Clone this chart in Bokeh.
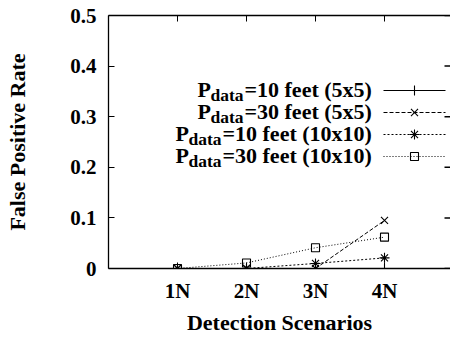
from bokeh.plotting import figure
from bokeh.models import FixedTicker, LinearAxis, Label, Range1d
from bokeh.embed import file_html
from bokeh.resources import INLINE

# ---- data ----
categories = ["1N", "2N", "3N", "4N"]
x_pos = [1, 2, 3, 4]
p10_5x5 = [0.0, 0.0, 0.0, 0.0]
p30_5x5 = [0.0, 0.0, 0.0, 0.095]
p10_10x10 = [0.0, 0.0, 0.01, 0.021]
p30_10x10 = [0.0, 0.011, 0.041, 0.062]
y_ticks = [0, 0.1, 0.2, 0.3, 0.4, 0.5]
y_tick_labels = ["0", "0.1", "0.2", "0.3", "0.4", "0.5"]
legend_values = ["=10 feet (5x5)", "=30 feet (5x5)", "=10 feet (10x10)", "=30 feet (10x10)"]

FONT = "Liberation Serif"
FS = "22px"
TICK_FS = "21px"
SUB_FS = "17.5px"

W, H = 450, 337
BL, BT, BB, BR = 108, 15, 69, 0
frame_w = W - BL - BR
frame_h = H - BT - BB
unit_x = 69.0
x_end = frame_w / unit_x

p = figure(width=W, height=H, output_backend="svg", toolbar_location=None,
           x_range=Range1d(0, x_end), y_range=Range1d(0, 0.5),
           min_border_left=BL, min_border_right=BR, min_border_top=BT,
           min_border_bottom=BB, x_axis_type=None, y_axis_type=None)
p.grid.visible = False
p.outline_line_color = None
p.background_fill_color = "white"
p.border_fill_color = "white"

xa = LinearAxis(ticker=FixedTicker(ticks=x_pos),
                major_label_overrides={x: c for x, c in zip(x_pos, categories)},
                axis_label="Detection Scenarios")
ya = LinearAxis(ticker=FixedTicker(ticks=y_ticks),
                major_label_overrides={t: l for t, l in zip(y_ticks, y_tick_labels)},
                axis_label="False Positive Rate")
ta = LinearAxis(ticker=FixedTicker(ticks=x_pos),
                major_label_overrides={x: "" for x in x_pos})
for ax in (xa, ya, ta):
    ax.major_tick_in = 6
    ax.major_tick_out = 0
    ax.minor_tick_in = 0
    ax.minor_tick_out = 0
    ax.axis_line_color = "black"
    ax.axis_line_width = 1.3
    ax.major_tick_line_color = "black"
    ax.major_tick_line_width = 1
    ax.major_label_text_font = FONT
    ax.major_label_text_font_style = "bold"
    ax.major_label_text_font_size = TICK_FS
    ax.major_label_text_color = "black"
    ax.axis_label_text_font = FONT
    ax.axis_label_text_font_style = "bold"
    ax.axis_label_text_font_size = FS
    ax.axis_label_text_color = "black"
xa.major_label_standoff = 10
xa.axis_label_standoff = 4
ya.major_label_standoff = 12
ya.axis_label_standoff = 37
ta.major_label_text_font_size = "0px"
ta.major_label_standoff = 0
p.add_layout(xa, "below")
p.add_layout(ya, "left")
p.add_layout(ta, "above")

n_yt = len(y_ticks)
p.segment(x0=[x_end - 6 / unit_x] * n_yt, y0=y_ticks, x1=[x_end - 0.5 / unit_x] * n_yt,
          y1=y_ticks, line_color="black", line_width=1.5)

styles = [
    (p10_5x5, "solid", "cross", 10),
    (p30_5x5, "4 2", "x", 10),
    (p10_10x10, "2 2", "asterisk", 10),
    (p30_10x10, "1 2", "square", 8),
]
for ys, dash, mk, sz in styles:
    p.line(x_pos, ys, line_color="black", line_width=1, line_dash=dash)
    p.scatter(x_pos, ys, marker=mk, size=sz, line_color="black",
              fill_color=None, line_width=1.1)

# ---- legend (drawn manually, pixel layout converted to data space) ----
def dx(px):
    return (px - BL) / unit_x
def dy(py):
    return 0.5 - (py - BT) / frame_h * 0.5

row_y = [90, 112, 134, 156]
p_left = [197, 197, 175, 175]
for i, (ys, dash, mk, sz) in enumerate(styles):
    yy = row_y[i]
    p.line([dx(383), dx(445)], [dy(yy), dy(yy)], line_color="black",
           line_width=1, line_dash=dash)
    p.scatter([dx(414)], [dy(yy)], marker=mk, size=sz, line_color="black",
              fill_color=None, line_width=1.1)
    for txt, xpx, ypx, fs in (("P", p_left[i], yy - 1, FS),
                              ("data", p_left[i] + 13, yy + 4, SUB_FS),
                              (legend_values[i], p_left[i] + 47, yy - 1, FS)):
        p.add_layout(Label(x=dx(xpx), y=dy(ypx), text=txt, text_font=FONT,
                           text_font_style="bold", text_font_size=fs,
                           text_color="black", text_align="left",
                           text_baseline="alphabetic"))

open("out.html", "w").write(file_html(p, INLINE))
